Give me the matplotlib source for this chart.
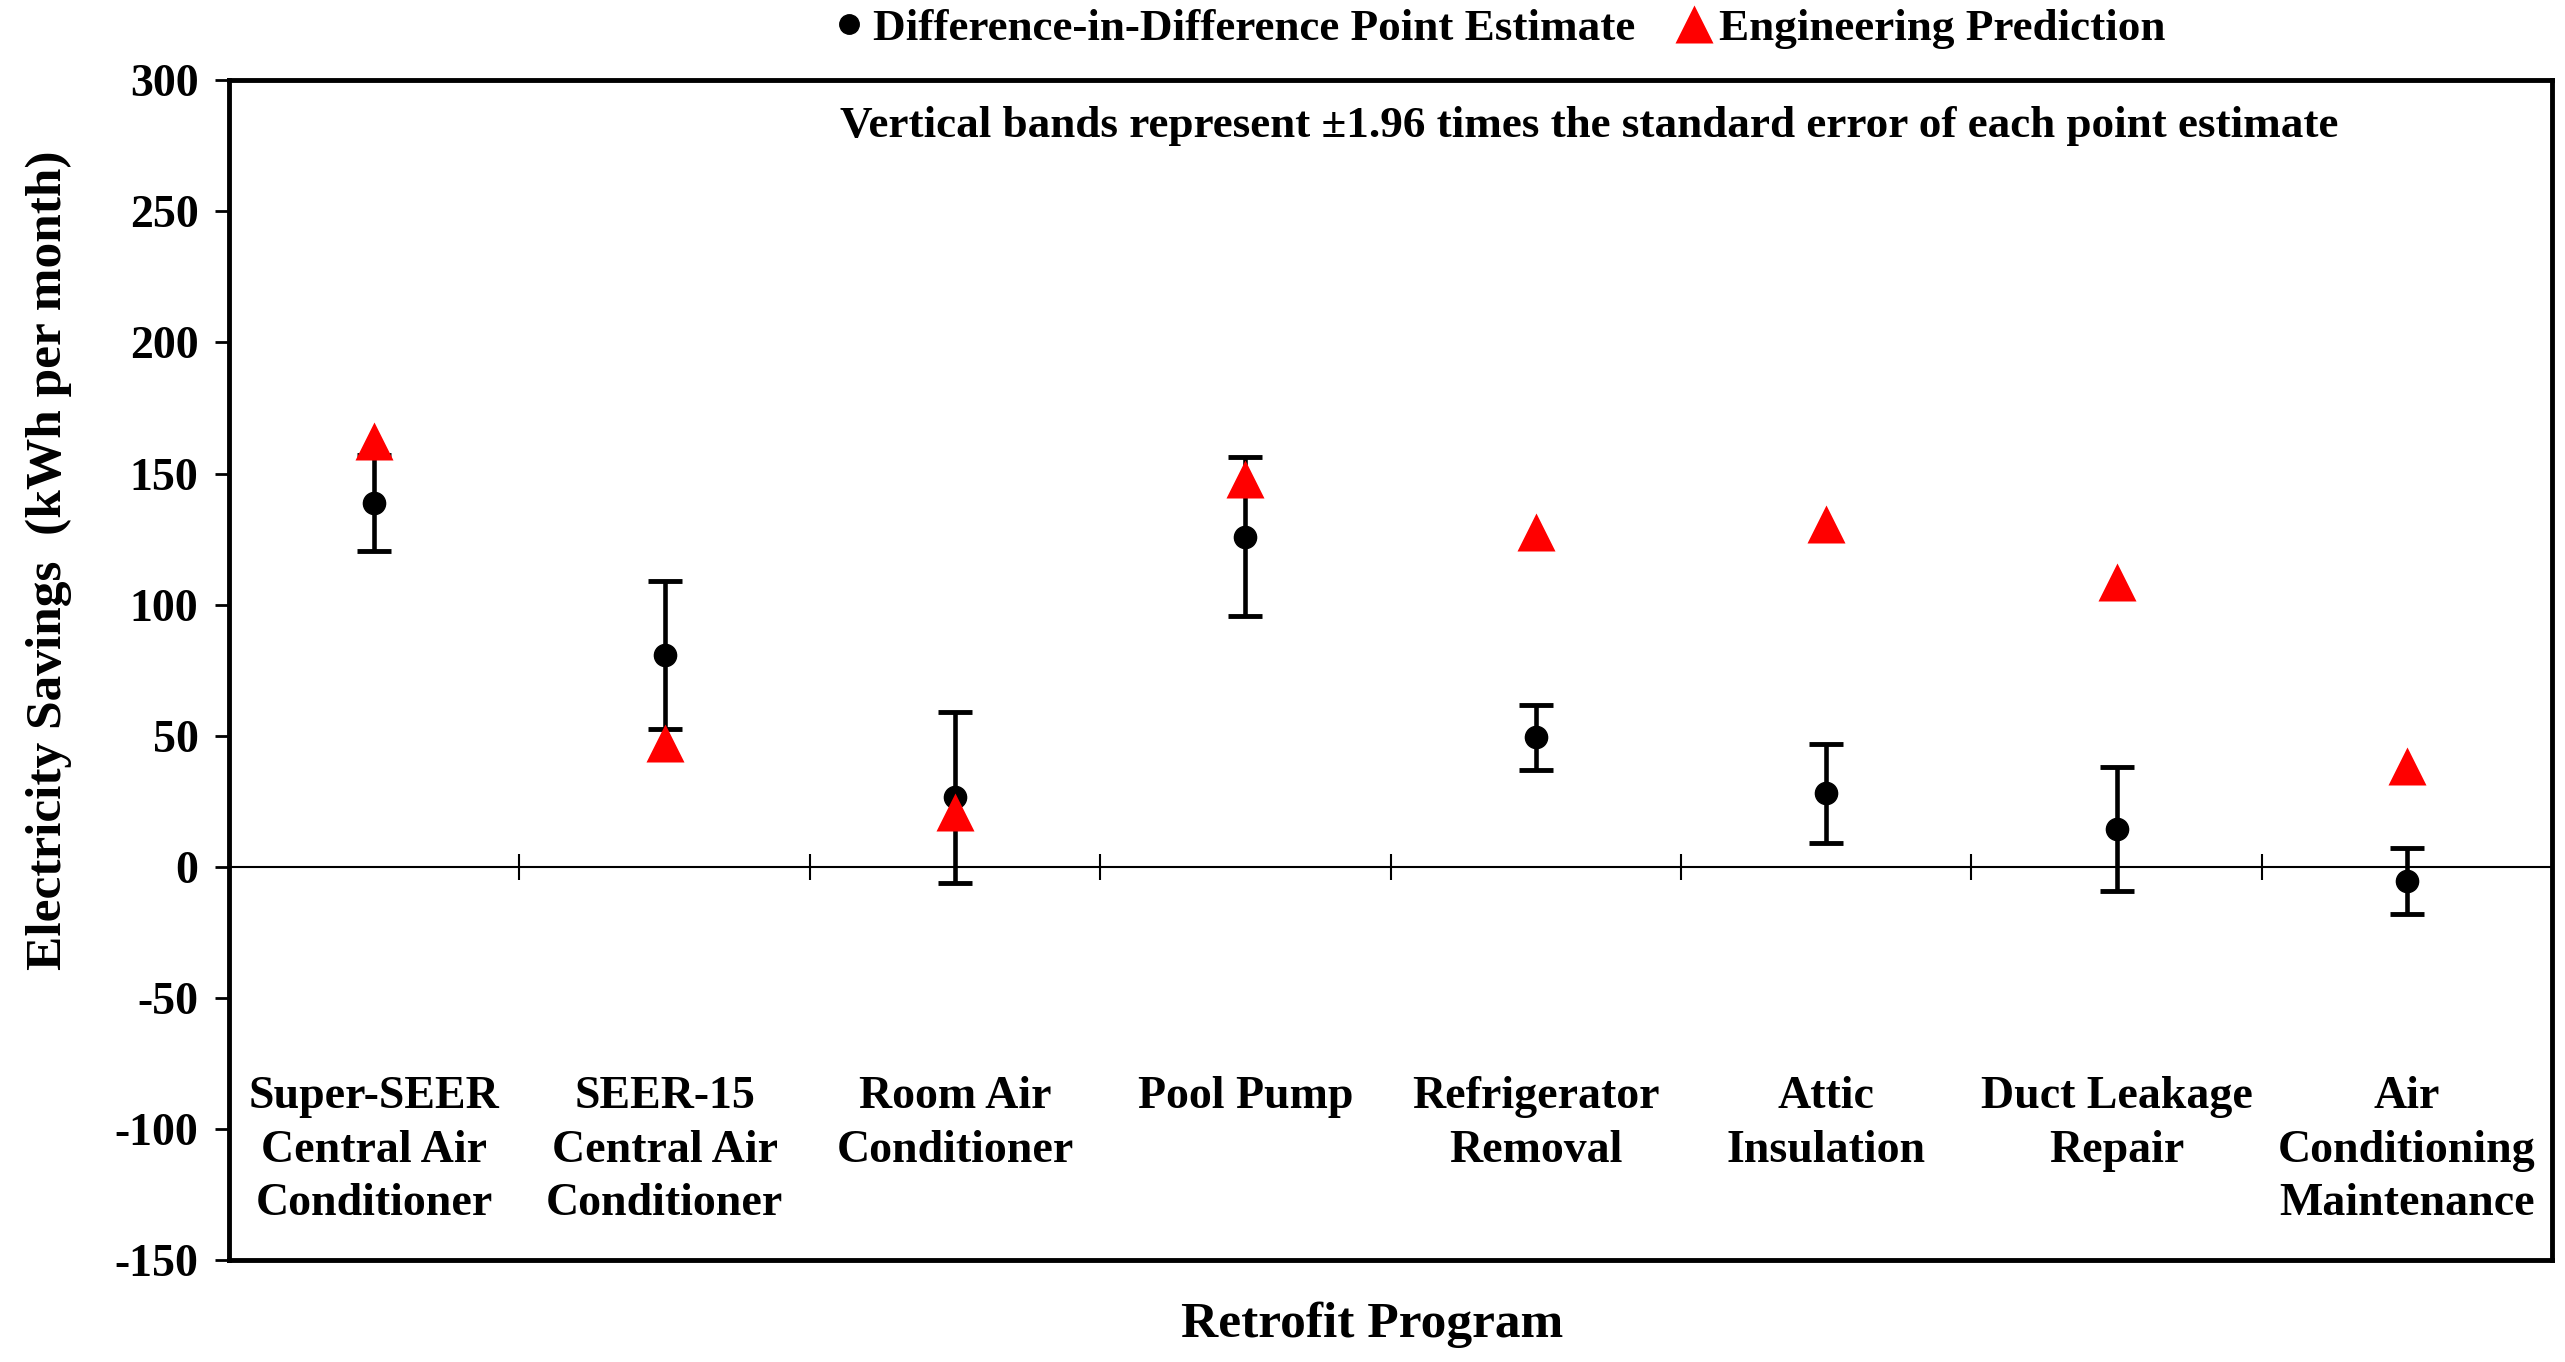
import numpy as np
import matplotlib.pyplot as plt
from matplotlib.lines import Line2D

# Values (kWh per month)
programs = ["Super-SEER\nCentral Air\nConditioner", "SEER-15\nCentral Air\nConditioner",
            "Room Air\nConditioner", "Pool Pump", "Refrigerator\nRemoval",
            "Attic\nInsulation", "Duct Leakage\nRepair", "Air\nConditioning\nMaintenance"]
did_estimate = [138.8, 80.8, 26.5, 125.9, 49.5, 28.0, 14.3, -5.6]
ci_half = [18.4, 28.3, 32.5, 30.4, 12.4, 18.9, 23.7, 12.6]
engineering = [162.6, 47.1, 21.0, 148.0, 127.9, 130.7, 108.7, 38.6]

plt.rcParams['font.family'] = ['Liberation Serif', 'DejaVu Serif']
plt.rcParams['font.weight'] = 'bold'
plt.rcParams['axes.unicode_minus'] = False

fig = plt.figure(figsize=(25.65, 13.62), dpi=100)
ax = fig.add_axes([0.0893, 0.0749, 0.9057, 0.8661])

x = np.arange(len(programs))

ax.errorbar(x, did_estimate, yerr=ci_half, fmt='o', color='black', ms=16,
            elinewidth=3.3, capsize=12, capthick=3.5, zorder=3)
ax.plot(x, engineering, '^', color='#ff0000', ms=27, mec='none', zorder=4)

ax.set_xlim(-0.5, len(programs) - 0.5)
ax.set_ylim(-150, 300)
ax.set_yticks(np.arange(-150, 301, 50))
ax.tick_params(axis='y', labelsize=33, length=10, width=2, pad=12)
ax.set_xticks([])
for s in ax.spines.values():
    s.set_linewidth(3.5)

# horizontal axis crossing at zero, tick marks between categories
ax.axhline(0, color='black', lw=1.5, zorder=1)
zero_pos = (0 - ax.get_ylim()[0]) / (ax.get_ylim()[1] - ax.get_ylim()[0])
sec = ax.secondary_xaxis(zero_pos)
sec.set_xticks(np.arange(0.5, len(programs) - 1, 1.0))
sec.tick_params(direction='inout', length=19, width=1.5, labelbottom=False, labeltop=False)
sec.spines['bottom'].set_visible(False)
sec.spines['top'].set_visible(False)

for xi, name in zip(x, programs):
    ax.text(xi, -80, name, ha='center', va='top', fontsize=33,
            fontweight='bold', linespacing=1.35)

ax.text(0.5855, 0.961, "Vertical bands represent \u00b11.96 times the standard error of each point estimate",
        transform=ax.transAxes, ha='center', va='center', fontsize=32.5, fontweight='bold')

fig.text(0.019, 0.589, "Electricity Savings  (kWh per month)", rotation=90,
         ha='center', va='center', fontsize=37, fontweight='bold')
fig.text(0.535, 0.027, "Retrofit Program", ha='center', va='center',
         fontsize=37, fontweight='bold')

handles = [Line2D([], [], ls='none', marker='o', color='black', ms=14),
           Line2D([], [], ls='none', marker='^', color='#ff0000', ms=27, mec='none')]
fig.legend(handles, ["Difference-in-Difference Point Estimate", "Engineering Prediction"],
           loc='center', bbox_to_anchor=(0.584, 0.979), ncol=2, frameon=False,
           fontsize=32.5, handletextpad=0.15, columnspacing=0.9, handlelength=0.8)

fig.savefig('out.png', dpi=100)
